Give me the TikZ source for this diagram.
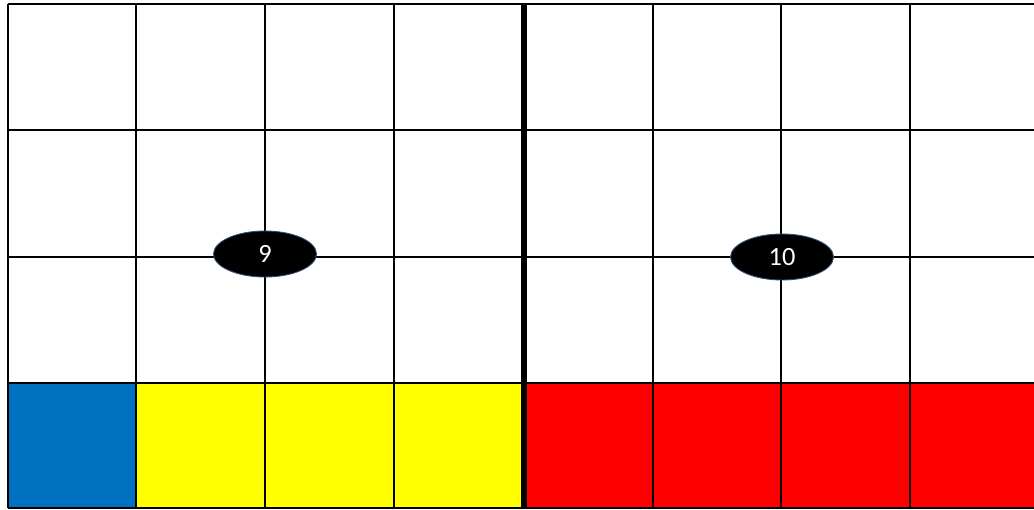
\documentclass[tikz,border=0pt]{standalone}
\usepackage{fontspec}
\setmainfont{Carlito}
\usetikzlibrary{shapes.geometric}
\definecolor{plotblue}{HTML}{0070C0}
\definecolor{plotyellow}{HTML}{FFFF00}
\definecolor{plotred}{HTML}{FF0000}
\definecolor{rimblue}{HTML}{2F4E7A}

\begin{document}
\begin{tikzpicture}[x=0.02cm, y=-0.02cm,
    lotlabel/.style={ellipse, fill=black, draw=rimblue, line width=0.5pt, text=white,
      minimum width=2.06cm, minimum height=0.92cm, inner sep=0pt, font=\fontsize{15}{17}\selectfont}]
        \useasboundingbox (0, 0) rectangle (1034, 510);
        % bottom row
        \fill[plotblue] (8, 383) rectangle (136, 508);
        \fill[plotyellow] (136, 383) rectangle (524, 508);
        \fill[plotred] (524, 383) rectangle (1034, 508);
        % grid
        \foreach \x in {8, 136, 265, 394, 653, 781, 910}
            \draw[line width=1.1pt] (\x, 4) -- (\x, 508);
        \foreach \y in {4, 130, 257, 383, 508}
            \draw[line width=1.1pt] (8, \y) -- (1034, \y);
        \draw[line width=3.8pt] (524, 4) -- (524, 508);
        % lot numbers
        \node[lotlabel] (lot9) at (265, 254) {9};
        \node[lotlabel] (lot10) at (782, 257) {10};
    \end{tikzpicture}
\end{document}
